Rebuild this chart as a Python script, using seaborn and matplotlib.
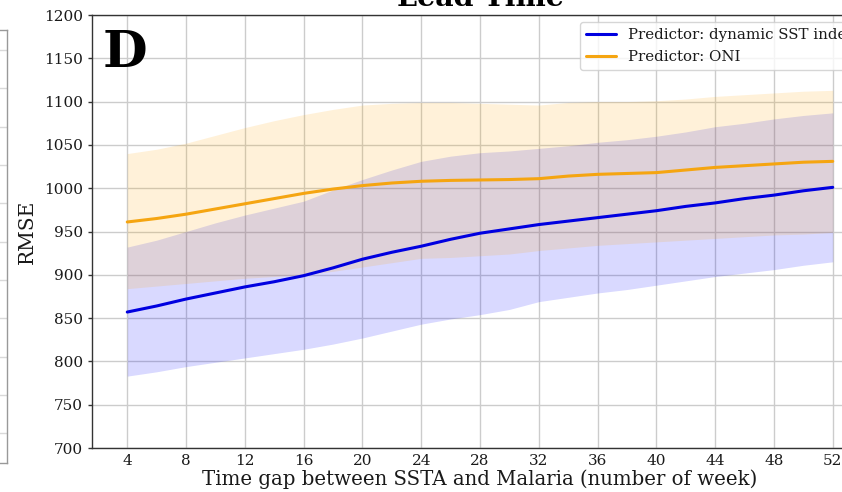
import numpy as np
import pandas as pd
import matplotlib
matplotlib.use("Agg")
import matplotlib.pyplot as plt
import seaborn as sns

# Lead time (weeks) between SST anomaly and malaria counts
weeks = [4, 6, 8, 10, 12, 14, 16, 18, 20, 22, 24, 26, 28,
         30, 32, 34, 36, 38, 40, 42, 44, 46, 48, 50, 52]

# RMSE with the dynamic SST index as predictor
sst_mean = [857, 864, 872, 879, 886, 892, 899, 908, 918, 926, 933, 941, 948,
            953, 958, 962, 966, 970, 974, 979, 983, 988, 992, 997, 1001]
sst_upper = [932, 940, 950, 960, 969, 977, 985, 998, 1010, 1021, 1031, 1037, 1041,
             1043, 1046, 1049, 1053, 1056, 1060, 1065, 1071, 1075, 1080, 1084, 1087]
sst_lower = [783, 788, 794, 799, 804, 809, 814, 820, 827, 835, 843, 849, 854,
             860, 869, 874, 879, 883, 888, 893, 898, 902, 906, 911, 915]

# RMSE with ONI as predictor
oni_mean = [961, 965, 970, 976, 982, 988, 994, 999, 1003, 1006, 1008, 1009, 1009.5,
            1010, 1011, 1014, 1016, 1017, 1018, 1021, 1024, 1026, 1028, 1030, 1031]
oni_upper = [1040, 1045, 1052, 1061, 1070, 1078, 1085, 1091, 1096, 1098, 1099, 1099, 1098,
             1097, 1096, 1099, 1100, 1100, 1101, 1103, 1106, 1108, 1110, 1112, 1113]
oni_lower = [884, 887, 890, 893, 896, 898, 900, 904, 909, 914, 919, 920, 922,
             924, 928, 931, 934, 936, 938, 940, 942, 944, 946, 947, 949]

x_ticks = list(range(4, 53, 4))
y_ticks = list(range(700, 1201, 50))

sns.set_style("whitegrid")
plt.rcParams["font.family"] = ["DejaVu Serif"]

W, H = 842, 492
fig = plt.figure(figsize=(W / 100, H / 100), dpi=100)

# neighbouring panel (only its right edge is in view)
axl = fig.add_axes([-300 / W, (H - 463) / H, 307 / W, (463 - 30) / H])
axl.set_xlim(0, 1)
axl.set_ylim(463, 30)
axl.set_yticks([50, 88, 127, 165, 203, 242, 280, 318, 357, 395, 433])
axl.set_xticks([])
axl.tick_params(left=False, labelleft=False)
axl.grid(True, color="0.85", linewidth=1)
for s in axl.spines.values():
    s.set_color("0.6")
    s.set_linewidth(1)

ax = fig.add_axes([92 / W, (H - 448) / H, (868 - 92) / W, (448 - 15) / H])

df = pd.DataFrame({
    "week": weeks * 2,
    "rmse": sst_mean + oni_mean,
    "predictor": ["Predictor: dynamic SST index"] * len(weeks)
                 + ["Predictor: ONI"] * len(weeks),
})

ax.fill_between(weeks, sst_lower, sst_upper, color="blue", alpha=0.15, linewidth=0)
ax.fill_between(weeks, oni_lower, oni_upper, color="orange", alpha=0.15, linewidth=0)
sns.lineplot(data=df, x="week", y="rmse", hue="predictor",
             palette={"Predictor: dynamic SST index": "#0000e0",
                      "Predictor: ONI": "#f5a511"},
             linewidth=2.2, ax=ax)

ax.set_xlim(1.6, 54.4)
ax.set_ylim(700, 1200)
ax.set_xticks(x_ticks)
ax.set_yticks(y_ticks)
ax.grid(True, color="0.8", linewidth=1)
for s in ax.spines.values():
    s.set_color("0.2")
    s.set_linewidth(1)
ax.tick_params(axis="y", left=True, length=3, width=1, color="0.2",
               pad=3.5, labelsize=11, labelcolor="0.1")
ax.tick_params(axis="x", bottom=False, length=0, pad=4, labelsize=11,
               labelcolor="0.1")

ax.set_xlabel("Time gap between SSTA and Malaria (number of week)",
              fontsize=14.2, color="0.1", labelpad=1.5)
ax.set_ylabel("RMSE", fontsize=14.5, color="0.1", labelpad=5)
ax.set_title("Lead Time", fontsize=20.5, fontweight="bold", pad=6.5,
             color="black")

leg = ax.legend(loc="upper right", fontsize=10.8, framealpha=0.8, title=None)
for t in leg.get_texts():
    t.set_color("0.1")

fig.text(103 / W, 1 - 67 / H, "D", fontsize=37, fontweight="bold",
         va="baseline", ha="left", color="black")

fig.savefig("out.png", dpi=100)
